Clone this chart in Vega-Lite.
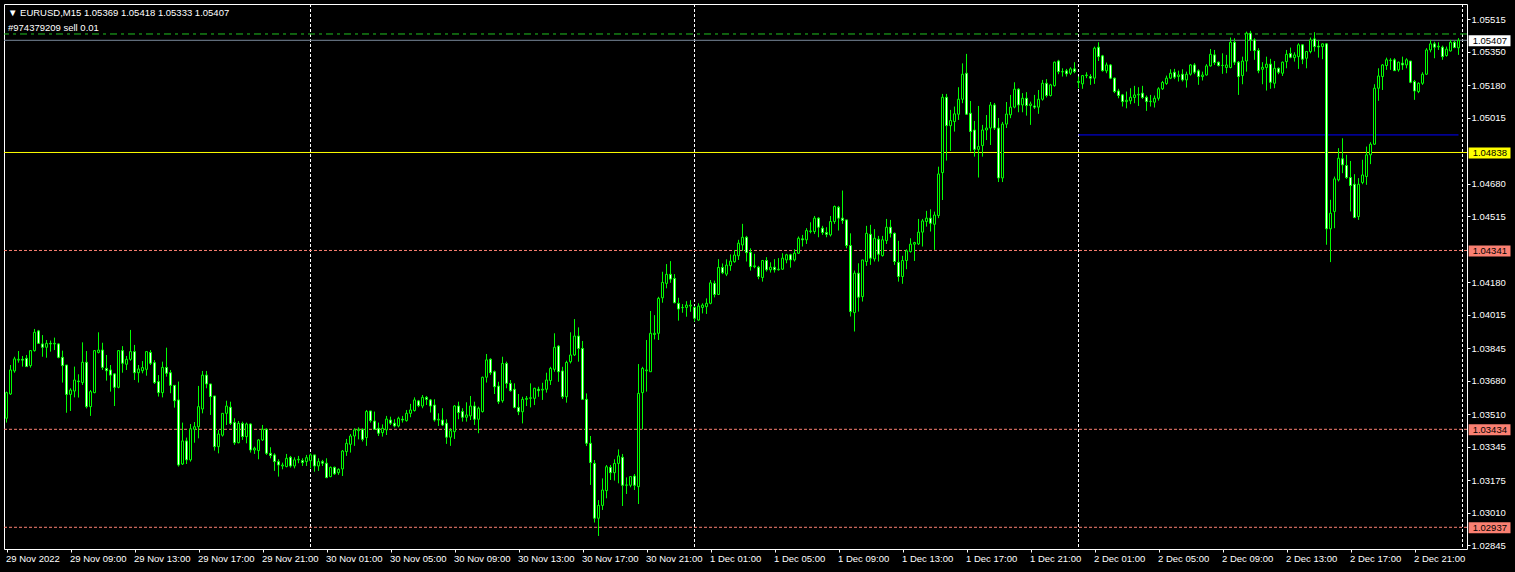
{
  "$schema": "https://vega.github.io/schema/vega-lite/v6.json",
  "width": 1463,
  "height": 545,
  "autosize": {"type": "none"},
  "padding": {"left": 4, "top": 4, "right": 48, "bottom": 23},
  "background": "#000000",
  "config": {
    "view": {"stroke": "#ffffff", "strokeWidth": 1, "fill": "#000000"},
    "font": "Liberation Sans",
    "scale": {"continuousPadding": 0},
    "axis": {"labelFont": "Liberation Sans", "labelFontSize": 9.5, "labelColor": "#ffffff", "tickColor": "#ffffff", "domain": false, "grid": false, "labelOverlap": false},
    "axisY": {"labelOverlap": false},
    "axisX": {"labelOverlap": false}
  },
  "title": {
    "text": "▼ EURUSD,M15  1.05369 1.05418 1.05333 1.05407",
    "subtitle": "#974379209 sell 0.01",
    "anchor": "start",
    "frame": "group",
    "orient": "top",
    "offset": 0,
    "dx": 4,
    "dy": 29,
    "font": "Liberation Sans, DejaVu Sans",
    "fontSize": 9.5,
    "fontWeight": "normal",
    "color": "#ffffff",
    "subtitleFont": "Liberation Sans",
    "subtitleFontSize": 9.5,
    "subtitleColor": "#ffffff",
    "subtitlePadding": 6
  },
  "datasets": {
    "candles": [
{"t":"2022-11-29T05:00Z","o":1.03490,"h":1.03625,"l":1.03468,"c":1.03620},
{"t":"2022-11-29T05:15Z","o":1.03613,"h":1.03760,"l":1.03608,"c":1.03735},
{"t":"2022-11-29T05:30Z","o":1.03730,"h":1.03802,"l":1.03721,"c":1.03791},
{"t":"2022-11-29T05:45Z","o":1.03785,"h":1.03831,"l":1.03772,"c":1.03789},
{"t":"2022-11-29T06:00Z","o":1.03789,"h":1.03806,"l":1.03752,"c":1.03785},
{"t":"2022-11-29T06:15Z","o":1.03794,"h":1.03811,"l":1.03752,"c":1.03752},
{"t":"2022-11-29T06:30Z","o":1.03757,"h":1.03836,"l":1.03747,"c":1.03833},
{"t":"2022-11-29T06:45Z","o":1.03833,"h":1.03943,"l":1.03828,"c":1.03926},
{"t":"2022-11-29T07:00Z","o":1.03933,"h":1.03938,"l":1.03867,"c":1.03870},
{"t":"2022-11-29T07:15Z","o":1.03867,"h":1.03912,"l":1.03802,"c":1.03850},
{"t":"2022-11-29T07:30Z","o":1.03850,"h":1.03887,"l":1.03797,"c":1.03870},
{"t":"2022-11-29T07:45Z","o":1.03870,"h":1.03884,"l":1.03828,"c":1.03867},
{"t":"2022-11-29T08:00Z","o":1.03867,"h":1.03899,"l":1.03836,"c":1.03870},
{"t":"2022-11-29T08:15Z","o":1.03867,"h":1.03870,"l":1.03794,"c":1.03799},
{"t":"2022-11-29T08:30Z","o":1.03799,"h":1.03833,"l":1.03671,"c":1.03757},
{"t":"2022-11-29T08:45Z","o":1.03760,"h":1.03760,"l":1.03518,"c":1.03611},
{"t":"2022-11-29T09:00Z","o":1.03611,"h":1.03642,"l":1.03527,"c":1.03633},
{"t":"2022-11-29T09:15Z","o":1.03628,"h":1.03752,"l":1.03596,"c":1.03684},
{"t":"2022-11-29T09:30Z","o":1.03679,"h":1.03713,"l":1.03595,"c":1.03676},
{"t":"2022-11-29T09:45Z","o":1.03671,"h":1.03875,"l":1.03659,"c":1.03774},
{"t":"2022-11-29T10:00Z","o":1.03774,"h":1.03831,"l":1.03540,"c":1.03549},
{"t":"2022-11-29T10:15Z","o":1.03549,"h":1.03633,"l":1.03502,"c":1.03625},
{"t":"2022-11-29T10:30Z","o":1.03620,"h":1.03836,"l":1.03617,"c":1.03833},
{"t":"2022-11-29T10:45Z","o":1.03824,"h":1.03926,"l":1.03819,"c":1.03836},
{"t":"2022-11-29T11:00Z","o":1.03836,"h":1.03873,"l":1.03735,"c":1.03748},
{"t":"2022-11-29T11:15Z","o":1.03743,"h":1.03811,"l":1.03681,"c":1.03731},
{"t":"2022-11-29T11:30Z","o":1.03735,"h":1.03760,"l":1.03625,"c":1.03709},
{"t":"2022-11-29T11:45Z","o":1.03715,"h":1.03718,"l":1.03552,"c":1.03647},
{"t":"2022-11-29T12:00Z","o":1.03647,"h":1.03836,"l":1.03642,"c":1.03833},
{"t":"2022-11-29T12:15Z","o":1.03833,"h":1.03856,"l":1.03721,"c":1.03769},
{"t":"2022-11-29T12:30Z","o":1.03764,"h":1.03806,"l":1.03735,"c":1.03789},
{"t":"2022-11-29T12:45Z","o":1.03789,"h":1.03938,"l":1.03782,"c":1.03828},
{"t":"2022-11-29T13:00Z","o":1.03828,"h":1.03862,"l":1.03684,"c":1.03721},
{"t":"2022-11-29T13:15Z","o":1.03721,"h":1.03760,"l":1.03671,"c":1.03740},
{"t":"2022-11-29T13:30Z","o":1.03731,"h":1.03780,"l":1.03718,"c":1.03747},
{"t":"2022-11-29T13:45Z","o":1.03738,"h":1.03828,"l":1.03706,"c":1.03828},
{"t":"2022-11-29T14:00Z","o":1.03824,"h":1.03836,"l":1.03760,"c":1.03769},
{"t":"2022-11-29T14:15Z","o":1.03772,"h":1.03785,"l":1.03664,"c":1.03671},
{"t":"2022-11-29T14:30Z","o":1.03676,"h":1.03709,"l":1.03600,"c":1.03620},
{"t":"2022-11-29T14:45Z","o":1.03620,"h":1.03777,"l":1.03596,"c":1.03748},
{"t":"2022-11-29T15:00Z","o":1.03748,"h":1.03848,"l":1.03701,"c":1.03718},
{"t":"2022-11-29T15:15Z","o":1.03721,"h":1.03735,"l":1.03617,"c":1.03657},
{"t":"2022-11-29T15:30Z","o":1.03657,"h":1.03657,"l":1.03544,"c":1.03579},
{"t":"2022-11-29T15:45Z","o":1.03583,"h":1.03676,"l":1.03245,"c":1.03253},
{"t":"2022-11-29T16:00Z","o":1.03258,"h":1.03468,"l":1.03253,"c":1.03375},
{"t":"2022-11-29T16:15Z","o":1.03375,"h":1.03392,"l":1.03258,"c":1.03279},
{"t":"2022-11-29T16:30Z","o":1.03279,"h":1.03461,"l":1.03270,"c":1.03436},
{"t":"2022-11-29T16:45Z","o":1.03434,"h":1.03471,"l":1.03366,"c":1.03447},
{"t":"2022-11-29T17:00Z","o":1.03447,"h":1.03654,"l":1.03388,"c":1.03549},
{"t":"2022-11-29T17:15Z","o":1.03537,"h":1.03730,"l":1.03515,"c":1.03709},
{"t":"2022-11-29T17:30Z","o":1.03709,"h":1.03730,"l":1.03642,"c":1.03664},
{"t":"2022-11-29T17:45Z","o":1.03664,"h":1.03664,"l":1.03507,"c":1.03600},
{"t":"2022-11-29T18:00Z","o":1.03603,"h":1.03603,"l":1.03326,"c":1.03346},
{"t":"2022-11-29T18:15Z","o":1.03346,"h":1.03431,"l":1.03312,"c":1.03410},
{"t":"2022-11-29T18:30Z","o":1.03404,"h":1.03515,"l":1.03397,"c":1.03515},
{"t":"2022-11-29T18:45Z","o":1.03515,"h":1.03579,"l":1.03456,"c":1.03552},
{"t":"2022-11-29T19:00Z","o":1.03546,"h":1.03574,"l":1.03456,"c":1.03464},
{"t":"2022-11-29T19:15Z","o":1.03469,"h":1.03490,"l":1.03355,"c":1.03366},
{"t":"2022-11-29T19:30Z","o":1.03366,"h":1.03476,"l":1.03363,"c":1.03464},
{"t":"2022-11-29T19:45Z","o":1.03464,"h":1.03473,"l":1.03380,"c":1.03397},
{"t":"2022-11-29T20:00Z","o":1.03397,"h":1.03468,"l":1.03363,"c":1.03461},
{"t":"2022-11-29T20:15Z","o":1.03461,"h":1.03464,"l":1.03316,"c":1.03329},
{"t":"2022-11-29T20:30Z","o":1.03329,"h":1.03346,"l":1.03309,"c":1.03338},
{"t":"2022-11-29T20:45Z","o":1.03326,"h":1.03385,"l":1.03282,"c":1.03380},
{"t":"2022-11-29T21:00Z","o":1.03380,"h":1.03456,"l":1.03375,"c":1.03434},
{"t":"2022-11-29T21:15Z","o":1.03434,"h":1.03439,"l":1.03304,"c":1.03312},
{"t":"2022-11-29T21:30Z","o":1.03312,"h":1.03343,"l":1.03287,"c":1.03301},
{"t":"2022-11-29T21:45Z","o":1.03304,"h":1.03312,"l":1.03223,"c":1.03270},
{"t":"2022-11-29T22:00Z","o":1.03270,"h":1.03282,"l":1.03194,"c":1.03253},
{"t":"2022-11-29T22:15Z","o":1.03248,"h":1.03265,"l":1.03231,"c":1.03253},
{"t":"2022-11-29T22:30Z","o":1.03245,"h":1.03309,"l":1.03241,"c":1.03287},
{"t":"2022-11-29T22:45Z","o":1.03292,"h":1.03299,"l":1.03240,"c":1.03248},
{"t":"2022-11-29T23:00Z","o":1.03248,"h":1.03292,"l":1.03236,"c":1.03279},
{"t":"2022-11-29T23:15Z","o":1.03279,"h":1.03299,"l":1.03262,"c":1.03282},
{"t":"2022-11-29T23:30Z","o":1.03275,"h":1.03287,"l":1.03248,"c":1.03265},
{"t":"2022-11-29T23:45Z","o":1.03270,"h":1.03304,"l":1.03248,"c":1.03290},
{"t":"2022-11-30T00:00Z","o":1.03275,"h":1.03312,"l":1.03236,"c":1.03304},
{"t":"2022-11-30T00:15Z","o":1.03304,"h":1.03304,"l":1.03219,"c":1.03248},
{"t":"2022-11-30T00:30Z","o":1.03248,"h":1.03287,"l":1.03223,"c":1.03270},
{"t":"2022-11-30T00:45Z","o":1.03270,"h":1.03279,"l":1.03248,"c":1.03262},
{"t":"2022-11-30T01:00Z","o":1.03262,"h":1.03287,"l":1.03186,"c":1.03189},
{"t":"2022-11-30T01:15Z","o":1.03194,"h":1.03245,"l":1.03191,"c":1.03241},
{"t":"2022-11-30T01:30Z","o":1.03241,"h":1.03245,"l":1.03203,"c":1.03208},
{"t":"2022-11-30T01:45Z","o":1.03214,"h":1.03236,"l":1.03203,"c":1.03231},
{"t":"2022-11-30T02:00Z","o":1.03233,"h":1.03329,"l":1.03197,"c":1.03324},
{"t":"2022-11-30T02:15Z","o":1.03321,"h":1.03385,"l":1.03299,"c":1.03363},
{"t":"2022-11-30T02:30Z","o":1.03358,"h":1.03410,"l":1.03316,"c":1.03400},
{"t":"2022-11-30T02:45Z","o":1.03400,"h":1.03439,"l":1.03350,"c":1.03431},
{"t":"2022-11-30T03:00Z","o":1.03427,"h":1.03444,"l":1.03383,"c":1.03434},
{"t":"2022-11-30T03:15Z","o":1.03434,"h":1.03439,"l":1.03372,"c":1.03383},
{"t":"2022-11-30T03:30Z","o":1.03392,"h":1.03532,"l":1.03350,"c":1.03524},
{"t":"2022-11-30T03:45Z","o":1.03527,"h":1.03527,"l":1.03468,"c":1.03478},
{"t":"2022-11-30T04:00Z","o":1.03476,"h":1.03524,"l":1.03431,"c":1.03434},
{"t":"2022-11-30T04:15Z","o":1.03439,"h":1.03468,"l":1.03400,"c":1.03414},
{"t":"2022-11-30T04:30Z","o":1.03417,"h":1.03459,"l":1.03397,"c":1.03439},
{"t":"2022-11-30T04:45Z","o":1.03431,"h":1.03502,"l":1.03405,"c":1.03486},
{"t":"2022-11-30T05:00Z","o":1.03481,"h":1.03498,"l":1.03456,"c":1.03465},
{"t":"2022-11-30T05:15Z","o":1.03465,"h":1.03485,"l":1.03444,"c":1.03451},
{"t":"2022-11-30T05:30Z","o":1.03451,"h":1.03498,"l":1.03444,"c":1.03490},
{"t":"2022-11-30T05:45Z","o":1.03485,"h":1.03502,"l":1.03468,"c":1.03481},
{"t":"2022-11-30T06:00Z","o":1.03478,"h":1.03532,"l":1.03473,"c":1.03515},
{"t":"2022-11-30T06:15Z","o":1.03515,"h":1.03563,"l":1.03495,"c":1.03532},
{"t":"2022-11-30T06:30Z","o":1.03529,"h":1.03596,"l":1.03524,"c":1.03583},
{"t":"2022-11-30T06:45Z","o":1.03578,"h":1.03583,"l":1.03546,"c":1.03554},
{"t":"2022-11-30T07:00Z","o":1.03552,"h":1.03608,"l":1.03541,"c":1.03596},
{"t":"2022-11-30T07:15Z","o":1.03596,"h":1.03603,"l":1.03557,"c":1.03586},
{"t":"2022-11-30T07:30Z","o":1.03583,"h":1.03588,"l":1.03519,"c":1.03552},
{"t":"2022-11-30T07:45Z","o":1.03557,"h":1.03586,"l":1.03473,"c":1.03481},
{"t":"2022-11-30T08:00Z","o":1.03481,"h":1.03515,"l":1.03451,"c":1.03485},
{"t":"2022-11-30T08:15Z","o":1.03481,"h":1.03541,"l":1.03451,"c":1.03456},
{"t":"2022-11-30T08:30Z","o":1.03465,"h":1.03485,"l":1.03360,"c":1.03394},
{"t":"2022-11-30T08:45Z","o":1.03394,"h":1.03439,"l":1.03350,"c":1.03427},
{"t":"2022-11-30T09:00Z","o":1.03422,"h":1.03557,"l":1.03385,"c":1.03552},
{"t":"2022-11-30T09:15Z","o":1.03552,"h":1.03574,"l":1.03485,"c":1.03519},
{"t":"2022-11-30T09:30Z","o":1.03524,"h":1.03541,"l":1.03473,"c":1.03495},
{"t":"2022-11-30T09:45Z","o":1.03495,"h":1.03571,"l":1.03473,"c":1.03507},
{"t":"2022-11-30T10:00Z","o":1.03502,"h":1.03603,"l":1.03481,"c":1.03552},
{"t":"2022-11-30T10:15Z","o":1.03552,"h":1.03574,"l":1.03456,"c":1.03485},
{"t":"2022-11-30T10:30Z","o":1.03485,"h":1.03549,"l":1.03414,"c":1.03541},
{"t":"2022-11-30T10:45Z","o":1.03524,"h":1.03701,"l":1.03519,"c":1.03698},
{"t":"2022-11-30T11:00Z","o":1.03698,"h":1.03816,"l":1.03671,"c":1.03786},
{"t":"2022-11-30T11:15Z","o":1.03789,"h":1.03794,"l":1.03710,"c":1.03721},
{"t":"2022-11-30T11:30Z","o":1.03726,"h":1.03732,"l":1.03613,"c":1.03650},
{"t":"2022-11-30T11:45Z","o":1.03653,"h":1.03675,"l":1.03562,"c":1.03574},
{"t":"2022-11-30T12:00Z","o":1.03579,"h":1.03802,"l":1.03569,"c":1.03768},
{"t":"2022-11-30T12:15Z","o":1.03768,"h":1.03777,"l":1.03642,"c":1.03667},
{"t":"2022-11-30T12:30Z","o":1.03667,"h":1.03684,"l":1.03625,"c":1.03630},
{"t":"2022-11-30T12:45Z","o":1.03637,"h":1.03667,"l":1.03540,"c":1.03545},
{"t":"2022-11-30T13:00Z","o":1.03545,"h":1.03613,"l":1.03506,"c":1.03523},
{"t":"2022-11-30T13:15Z","o":1.03523,"h":1.03599,"l":1.03464,"c":1.03586},
{"t":"2022-11-30T13:30Z","o":1.03586,"h":1.03603,"l":1.03552,"c":1.03591},
{"t":"2022-11-30T13:45Z","o":1.03591,"h":1.03667,"l":1.03545,"c":1.03594},
{"t":"2022-11-30T14:00Z","o":1.03591,"h":1.03645,"l":1.03557,"c":1.03642},
{"t":"2022-11-30T14:15Z","o":1.03637,"h":1.03650,"l":1.03599,"c":1.03630},
{"t":"2022-11-30T14:30Z","o":1.03633,"h":1.03670,"l":1.03583,"c":1.03637},
{"t":"2022-11-30T14:45Z","o":1.03637,"h":1.03721,"l":1.03620,"c":1.03684},
{"t":"2022-11-30T15:00Z","o":1.03681,"h":1.03751,"l":1.03659,"c":1.03743},
{"t":"2022-11-30T15:15Z","o":1.03738,"h":1.03921,"l":1.03726,"c":1.03850},
{"t":"2022-11-30T15:30Z","o":1.03856,"h":1.03861,"l":1.03675,"c":1.03726},
{"t":"2022-11-30T15:45Z","o":1.03730,"h":1.03751,"l":1.03588,"c":1.03599},
{"t":"2022-11-30T16:00Z","o":1.03599,"h":1.03782,"l":1.03569,"c":1.03773},
{"t":"2022-11-30T16:15Z","o":1.03777,"h":1.03926,"l":1.03768,"c":1.03811},
{"t":"2022-11-30T16:30Z","o":1.03811,"h":1.03993,"l":1.03806,"c":1.03907},
{"t":"2022-11-30T16:45Z","o":1.03907,"h":1.03951,"l":1.03777,"c":1.03844},
{"t":"2022-11-30T17:00Z","o":1.03844,"h":1.03882,"l":1.03583,"c":1.03586},
{"t":"2022-11-30T17:15Z","o":1.03586,"h":1.03616,"l":1.03349,"c":1.03363},
{"t":"2022-11-30T17:30Z","o":1.03363,"h":1.03400,"l":1.03152,"c":1.03265},
{"t":"2022-11-30T17:45Z","o":1.03261,"h":1.03278,"l":1.02961,"c":1.02983},
{"t":"2022-11-30T18:00Z","o":1.02983,"h":1.03075,"l":1.02893,"c":1.03048},
{"t":"2022-11-30T18:15Z","o":1.03048,"h":1.03185,"l":1.03025,"c":1.03126},
{"t":"2022-11-30T18:30Z","o":1.03123,"h":1.03253,"l":1.03084,"c":1.03244},
{"t":"2022-11-30T18:45Z","o":1.03241,"h":1.03253,"l":1.03177,"c":1.03214},
{"t":"2022-11-30T19:00Z","o":1.03214,"h":1.03282,"l":1.03174,"c":1.03261},
{"t":"2022-11-30T19:15Z","o":1.03261,"h":1.03332,"l":1.03160,"c":1.03299},
{"t":"2022-11-30T19:30Z","o":1.03292,"h":1.03309,"l":1.03045,"c":1.03150},
{"t":"2022-11-30T19:45Z","o":1.03150,"h":1.03190,"l":1.03106,"c":1.03152},
{"t":"2022-11-30T20:00Z","o":1.03150,"h":1.03197,"l":1.03140,"c":1.03194},
{"t":"2022-11-30T20:15Z","o":1.03197,"h":1.03207,"l":1.03126,"c":1.03150},
{"t":"2022-11-30T20:30Z","o":1.03143,"h":1.03765,"l":1.03055,"c":1.03616},
{"t":"2022-11-30T20:45Z","o":1.03620,"h":1.03751,"l":1.03434,"c":1.03743},
{"t":"2022-11-30T21:00Z","o":1.03731,"h":1.03887,"l":1.03625,"c":1.03735},
{"t":"2022-11-30T21:15Z","o":1.03726,"h":1.04034,"l":1.03726,"c":1.03921},
{"t":"2022-11-30T21:30Z","o":1.03915,"h":1.04013,"l":1.03890,"c":1.03921},
{"t":"2022-11-30T21:45Z","o":1.03921,"h":1.04106,"l":1.03887,"c":1.04098},
{"t":"2022-11-30T22:00Z","o":1.04101,"h":1.04233,"l":1.04076,"c":1.04179},
{"t":"2022-11-30T22:15Z","o":1.04174,"h":1.04272,"l":1.04149,"c":1.04220},
{"t":"2022-11-30T22:30Z","o":1.04220,"h":1.04287,"l":1.04177,"c":1.04196},
{"t":"2022-11-30T22:45Z","o":1.04199,"h":1.04221,"l":1.04073,"c":1.04076},
{"t":"2022-11-30T23:00Z","o":1.04073,"h":1.04101,"l":1.03985,"c":1.04044},
{"t":"2022-11-30T23:15Z","o":1.04051,"h":1.04069,"l":1.04025,"c":1.04052},
{"t":"2022-11-30T23:30Z","o":1.04052,"h":1.04084,"l":1.04005,"c":1.04064},
{"t":"2022-11-30T23:45Z","o":1.04059,"h":1.04089,"l":1.04030,"c":1.04064},
{"t":"2022-12-01T00:00Z","o":1.04052,"h":1.04059,"l":1.03980,"c":1.03997},
{"t":"2022-12-01T00:15Z","o":1.03988,"h":1.04073,"l":1.03985,"c":1.04059},
{"t":"2022-12-01T00:30Z","o":1.04052,"h":1.04073,"l":1.04022,"c":1.04064},
{"t":"2022-12-01T00:45Z","o":1.04056,"h":1.04098,"l":1.04019,"c":1.04073},
{"t":"2022-12-01T01:00Z","o":1.04073,"h":1.04191,"l":1.04068,"c":1.04177},
{"t":"2022-12-01T01:15Z","o":1.04174,"h":1.04188,"l":1.04103,"c":1.04118},
{"t":"2022-12-01T01:30Z","o":1.04118,"h":1.04297,"l":1.04115,"c":1.04255},
{"t":"2022-12-01T01:45Z","o":1.04255,"h":1.04275,"l":1.04221,"c":1.04228},
{"t":"2022-12-01T02:00Z","o":1.04221,"h":1.04296,"l":1.04211,"c":1.04267},
{"t":"2022-12-01T02:15Z","o":1.04264,"h":1.04321,"l":1.04238,"c":1.04287},
{"t":"2022-12-01T02:30Z","o":1.04284,"h":1.04343,"l":1.04279,"c":1.04318},
{"t":"2022-12-01T02:45Z","o":1.04314,"h":1.04395,"l":1.04293,"c":1.04378},
{"t":"2022-12-01T03:00Z","o":1.04369,"h":1.04476,"l":1.04339,"c":1.04408},
{"t":"2022-12-01T03:15Z","o":1.04408,"h":1.04415,"l":1.04285,"c":1.04330},
{"t":"2022-12-01T03:30Z","o":1.04332,"h":1.04352,"l":1.04239,"c":1.04259},
{"t":"2022-12-01T03:45Z","o":1.04259,"h":1.04324,"l":1.04251,"c":1.04263},
{"t":"2022-12-01T04:00Z","o":1.04256,"h":1.04263,"l":1.04195,"c":1.04209},
{"t":"2022-12-01T04:15Z","o":1.04204,"h":1.04293,"l":1.04183,"c":1.04290},
{"t":"2022-12-01T04:30Z","o":1.04290,"h":1.04307,"l":1.04234,"c":1.04243},
{"t":"2022-12-01T04:45Z","o":1.04243,"h":1.04281,"l":1.04229,"c":1.04256},
{"t":"2022-12-01T05:00Z","o":1.04256,"h":1.04297,"l":1.04229,"c":1.04243},
{"t":"2022-12-01T05:15Z","o":1.04243,"h":1.04302,"l":1.04239,"c":1.04246},
{"t":"2022-12-01T05:30Z","o":1.04246,"h":1.04327,"l":1.04243,"c":1.04302},
{"t":"2022-12-01T05:45Z","o":1.04293,"h":1.04324,"l":1.04276,"c":1.04319},
{"t":"2022-12-01T06:00Z","o":1.04319,"h":1.04324,"l":1.04254,"c":1.04293},
{"t":"2022-12-01T06:15Z","o":1.04293,"h":1.04347,"l":1.04285,"c":1.04327},
{"t":"2022-12-01T06:30Z","o":1.04327,"h":1.04412,"l":1.04324,"c":1.04403},
{"t":"2022-12-01T06:45Z","o":1.04400,"h":1.04420,"l":1.04361,"c":1.04395},
{"t":"2022-12-01T07:00Z","o":1.04395,"h":1.04454,"l":1.04374,"c":1.04442},
{"t":"2022-12-01T07:15Z","o":1.04437,"h":1.04484,"l":1.04428,"c":1.04440},
{"t":"2022-12-01T07:30Z","o":1.04437,"h":1.04516,"l":1.04425,"c":1.04505},
{"t":"2022-12-01T07:45Z","o":1.04505,"h":1.04510,"l":1.04408,"c":1.04459},
{"t":"2022-12-01T08:00Z","o":1.04454,"h":1.04466,"l":1.04420,"c":1.04432},
{"t":"2022-12-01T08:15Z","o":1.04432,"h":1.04459,"l":1.04408,"c":1.04423},
{"t":"2022-12-01T08:30Z","o":1.04420,"h":1.04516,"l":1.04412,"c":1.04488},
{"t":"2022-12-01T08:45Z","o":1.04488,"h":1.04569,"l":1.04476,"c":1.04564},
{"t":"2022-12-01T09:00Z","o":1.04560,"h":1.04567,"l":1.04442,"c":1.04505},
{"t":"2022-12-01T09:15Z","o":1.04505,"h":1.04645,"l":1.04476,"c":1.04493},
{"t":"2022-12-01T09:30Z","o":1.04496,"h":1.04496,"l":1.04352,"c":1.04366},
{"t":"2022-12-01T09:45Z","o":1.04366,"h":1.04428,"l":1.04006,"c":1.04031},
{"t":"2022-12-01T10:00Z","o":1.04026,"h":1.04239,"l":1.03930,"c":1.04226},
{"t":"2022-12-01T10:15Z","o":1.04226,"h":1.04276,"l":1.04031,"c":1.04104},
{"t":"2022-12-01T10:30Z","o":1.04107,"h":1.04293,"l":1.04082,"c":1.04293},
{"t":"2022-12-01T10:45Z","o":1.04285,"h":1.04466,"l":1.04263,"c":1.04428},
{"t":"2022-12-01T11:00Z","o":1.04423,"h":1.04471,"l":1.04268,"c":1.04302},
{"t":"2022-12-01T11:15Z","o":1.04298,"h":1.04449,"l":1.04285,"c":1.04403},
{"t":"2022-12-01T11:30Z","o":1.04398,"h":1.04415,"l":1.04285,"c":1.04322},
{"t":"2022-12-01T11:45Z","o":1.04315,"h":1.04415,"l":1.04310,"c":1.04395},
{"t":"2022-12-01T12:00Z","o":1.04391,"h":1.04501,"l":1.04374,"c":1.04459},
{"t":"2022-12-01T12:15Z","o":1.04459,"h":1.04496,"l":1.04407,"c":1.04428},
{"t":"2022-12-01T12:30Z","o":1.04428,"h":1.04432,"l":1.04268,"c":1.04285},
{"t":"2022-12-01T12:45Z","o":1.04281,"h":1.04390,"l":1.04183,"c":1.04209},
{"t":"2022-12-01T13:00Z","o":1.04209,"h":1.04314,"l":1.04172,"c":1.04290},
{"t":"2022-12-01T13:15Z","o":1.04290,"h":1.04347,"l":1.04246,"c":1.04339},
{"t":"2022-12-01T13:30Z","o":1.04336,"h":1.04403,"l":1.04330,"c":1.04373},
{"t":"2022-12-01T13:45Z","o":1.04373,"h":1.04385,"l":1.04288,"c":1.04381},
{"t":"2022-12-01T14:00Z","o":1.04374,"h":1.04501,"l":1.04369,"c":1.04434},
{"t":"2022-12-01T14:15Z","o":1.04434,"h":1.04501,"l":1.04361,"c":1.04491},
{"t":"2022-12-01T14:30Z","o":1.04488,"h":1.04542,"l":1.04462,"c":1.04505},
{"t":"2022-12-01T14:45Z","o":1.04505,"h":1.04550,"l":1.04437,"c":1.04479},
{"t":"2022-12-01T15:00Z","o":1.04474,"h":1.04538,"l":1.04344,"c":1.04521},
{"t":"2022-12-01T15:15Z","o":1.04518,"h":1.04766,"l":1.04505,"c":1.04729},
{"t":"2022-12-01T15:30Z","o":1.04736,"h":1.05135,"l":1.04597,"c":1.05118},
{"t":"2022-12-01T15:45Z","o":1.05118,"h":1.05135,"l":1.04797,"c":1.04974},
{"t":"2022-12-01T16:00Z","o":1.04974,"h":1.05054,"l":1.04846,"c":1.05000},
{"t":"2022-12-01T16:15Z","o":1.04995,"h":1.05071,"l":1.04944,"c":1.05034},
{"t":"2022-12-01T16:30Z","o":1.05032,"h":1.05169,"l":1.05003,"c":1.05108},
{"t":"2022-12-01T16:45Z","o":1.05108,"h":1.05290,"l":1.05088,"c":1.05235},
{"t":"2022-12-01T17:00Z","o":1.05240,"h":1.05338,"l":1.05028,"c":1.05032},
{"t":"2022-12-01T17:15Z","o":1.05037,"h":1.05099,"l":1.04843,"c":1.04944},
{"t":"2022-12-01T17:30Z","o":1.04952,"h":1.04998,"l":1.04817,"c":1.04854},
{"t":"2022-12-01T17:45Z","o":1.04854,"h":1.05074,"l":1.04711,"c":1.04868},
{"t":"2022-12-01T18:00Z","o":1.04873,"h":1.04978,"l":1.04817,"c":1.04952},
{"t":"2022-12-01T18:15Z","o":1.04952,"h":1.05028,"l":1.04901,"c":1.04962},
{"t":"2022-12-01T18:30Z","o":1.04962,"h":1.05094,"l":1.04876,"c":1.05079},
{"t":"2022-12-01T18:45Z","o":1.05079,"h":1.05089,"l":1.04952,"c":1.04962},
{"t":"2022-12-01T19:00Z","o":1.04962,"h":1.05013,"l":1.04688,"c":1.04709},
{"t":"2022-12-01T19:15Z","o":1.04709,"h":1.04993,"l":1.04688,"c":1.04982},
{"t":"2022-12-01T19:30Z","o":1.04982,"h":1.05094,"l":1.04962,"c":1.05033},
{"t":"2022-12-01T19:45Z","o":1.05029,"h":1.05130,"l":1.05012,"c":1.05068},
{"t":"2022-12-01T20:00Z","o":1.05068,"h":1.05194,"l":1.05062,"c":1.05159},
{"t":"2022-12-01T20:15Z","o":1.05159,"h":1.05164,"l":1.05042,"c":1.05079},
{"t":"2022-12-01T20:30Z","o":1.05079,"h":1.05139,"l":1.05042,"c":1.05113},
{"t":"2022-12-01T20:45Z","o":1.05113,"h":1.05144,"l":1.05025,"c":1.05076},
{"t":"2022-12-01T21:00Z","o":1.05076,"h":1.05096,"l":1.04978,"c":1.05084},
{"t":"2022-12-01T21:15Z","o":1.05074,"h":1.05130,"l":1.05059,"c":1.05068},
{"t":"2022-12-01T21:30Z","o":1.05068,"h":1.05155,"l":1.05034,"c":1.05108},
{"t":"2022-12-01T21:45Z","o":1.05108,"h":1.05206,"l":1.05101,"c":1.05189},
{"t":"2022-12-01T22:00Z","o":1.05189,"h":1.05210,"l":1.05117,"c":1.05127},
{"t":"2022-12-01T22:15Z","o":1.05127,"h":1.05186,"l":1.05122,"c":1.05181},
{"t":"2022-12-01T22:30Z","o":1.05177,"h":1.05299,"l":1.05172,"c":1.05296},
{"t":"2022-12-01T22:45Z","o":1.05302,"h":1.05308,"l":1.05235,"c":1.05248},
{"t":"2022-12-01T23:00Z","o":1.05248,"h":1.05265,"l":1.05223,"c":1.05247},
{"t":"2022-12-01T23:15Z","o":1.05252,"h":1.05262,"l":1.05223,"c":1.05237},
{"t":"2022-12-01T23:30Z","o":1.05240,"h":1.05270,"l":1.05231,"c":1.05262},
{"t":"2022-12-01T23:45Z","o":1.05262,"h":1.05296,"l":1.05240,"c":1.05248},
{"t":"2022-12-02T00:00Z","o":1.05198,"h":1.05223,"l":1.05164,"c":1.05194},
{"t":"2022-12-02T00:15Z","o":1.05186,"h":1.05231,"l":1.05161,"c":1.05228},
{"t":"2022-12-02T00:30Z","o":1.05228,"h":1.05245,"l":1.05215,"c":1.05231},
{"t":"2022-12-02T00:45Z","o":1.05223,"h":1.05235,"l":1.05181,"c":1.05215},
{"t":"2022-12-02T01:00Z","o":1.05215,"h":1.05375,"l":1.05186,"c":1.05367},
{"t":"2022-12-02T01:15Z","o":1.05372,"h":1.05397,"l":1.05302,"c":1.05324},
{"t":"2022-12-02T01:30Z","o":1.05328,"h":1.05333,"l":1.05248,"c":1.05253},
{"t":"2022-12-02T01:45Z","o":1.05252,"h":1.05294,"l":1.05240,"c":1.05282},
{"t":"2022-12-02T02:00Z","o":1.05282,"h":1.05286,"l":1.05210,"c":1.05215},
{"t":"2022-12-02T02:15Z","o":1.05215,"h":1.05218,"l":1.05139,"c":1.05147},
{"t":"2022-12-02T02:30Z","o":1.05150,"h":1.05161,"l":1.05113,"c":1.05127},
{"t":"2022-12-02T02:45Z","o":1.05130,"h":1.05135,"l":1.05071,"c":1.05096},
{"t":"2022-12-02T03:00Z","o":1.05096,"h":1.05147,"l":1.05062,"c":1.05103},
{"t":"2022-12-02T03:15Z","o":1.05100,"h":1.05164,"l":1.05083,"c":1.05118},
{"t":"2022-12-02T03:30Z","o":1.05117,"h":1.05176,"l":1.05088,"c":1.05130},
{"t":"2022-12-02T03:45Z","o":1.05130,"h":1.05169,"l":1.05074,"c":1.05133},
{"t":"2022-12-02T04:00Z","o":1.05139,"h":1.05176,"l":1.05110,"c":1.05117},
{"t":"2022-12-02T04:15Z","o":1.05118,"h":1.05127,"l":1.05049,"c":1.05096},
{"t":"2022-12-02T04:30Z","o":1.05096,"h":1.05130,"l":1.05071,"c":1.05098},
{"t":"2022-12-02T04:45Z","o":1.05093,"h":1.05127,"l":1.05066,"c":1.05113},
{"t":"2022-12-02T05:00Z","o":1.05113,"h":1.05169,"l":1.05101,"c":1.05161},
{"t":"2022-12-02T05:15Z","o":1.05161,"h":1.05201,"l":1.05155,"c":1.05193},
{"t":"2022-12-02T05:30Z","o":1.05188,"h":1.05228,"l":1.05181,"c":1.05215},
{"t":"2022-12-02T05:45Z","o":1.05215,"h":1.05260,"l":1.05210,"c":1.05240},
{"t":"2022-12-02T06:00Z","o":1.05245,"h":1.05262,"l":1.05210,"c":1.05220},
{"t":"2022-12-02T06:15Z","o":1.05223,"h":1.05253,"l":1.05198,"c":1.05231},
{"t":"2022-12-02T06:30Z","o":1.05235,"h":1.05260,"l":1.05198,"c":1.05206},
{"t":"2022-12-02T06:45Z","o":1.05206,"h":1.05248,"l":1.05167,"c":1.05235},
{"t":"2022-12-02T07:00Z","o":1.05235,"h":1.05286,"l":1.05228,"c":1.05282},
{"t":"2022-12-02T07:15Z","o":1.05282,"h":1.05291,"l":1.05235,"c":1.05245},
{"t":"2022-12-02T07:30Z","o":1.05252,"h":1.05260,"l":1.05181,"c":1.05223},
{"t":"2022-12-02T07:45Z","o":1.05223,"h":1.05248,"l":1.05203,"c":1.05231},
{"t":"2022-12-02T08:00Z","o":1.05231,"h":1.05286,"l":1.05228,"c":1.05277},
{"t":"2022-12-02T08:15Z","o":1.05277,"h":1.05363,"l":1.05274,"c":1.05336},
{"t":"2022-12-02T08:30Z","o":1.05333,"h":1.05358,"l":1.05282,"c":1.05294},
{"t":"2022-12-02T08:45Z","o":1.05296,"h":1.05299,"l":1.05274,"c":1.05279},
{"t":"2022-12-02T09:00Z","o":1.05279,"h":1.05341,"l":1.05237,"c":1.05280},
{"t":"2022-12-02T09:15Z","o":1.05269,"h":1.05333,"l":1.05240,"c":1.05282},
{"t":"2022-12-02T09:30Z","o":1.05269,"h":1.05421,"l":1.05265,"c":1.05397},
{"t":"2022-12-02T09:45Z","o":1.05397,"h":1.05417,"l":1.05282,"c":1.05296},
{"t":"2022-12-02T10:00Z","o":1.05296,"h":1.05302,"l":1.05130,"c":1.05223},
{"t":"2022-12-02T10:15Z","o":1.05228,"h":1.05324,"l":1.05184,"c":1.05302},
{"t":"2022-12-02T10:30Z","o":1.05302,"h":1.05451,"l":1.05248,"c":1.05443},
{"t":"2022-12-02T10:45Z","o":1.05443,"h":1.05455,"l":1.05353,"c":1.05409},
{"t":"2022-12-02T11:00Z","o":1.05409,"h":1.05417,"l":1.05308,"c":1.05355},
{"t":"2022-12-02T11:15Z","o":1.05355,"h":1.05367,"l":1.05240,"c":1.05253},
{"t":"2022-12-02T11:30Z","o":1.05260,"h":1.05296,"l":1.05184,"c":1.05270},
{"t":"2022-12-02T11:45Z","o":1.05269,"h":1.05324,"l":1.05152,"c":1.05286},
{"t":"2022-12-02T12:00Z","o":1.05286,"h":1.05313,"l":1.05161,"c":1.05194},
{"t":"2022-12-02T12:15Z","o":1.05189,"h":1.05302,"l":1.05164,"c":1.05265},
{"t":"2022-12-02T12:30Z","o":1.05265,"h":1.05269,"l":1.05235,"c":1.05245},
{"t":"2022-12-02T12:45Z","o":1.05240,"h":1.05299,"l":1.05226,"c":1.05296},
{"t":"2022-12-02T13:00Z","o":1.05299,"h":1.05358,"l":1.05265,"c":1.05336},
{"t":"2022-12-02T13:15Z","o":1.05340,"h":1.05370,"l":1.05316,"c":1.05321},
{"t":"2022-12-02T13:30Z","o":1.05319,"h":1.05346,"l":1.05299,"c":1.05333},
{"t":"2022-12-02T13:45Z","o":1.05324,"h":1.05392,"l":1.05262,"c":1.05384},
{"t":"2022-12-02T14:00Z","o":1.05384,"h":1.05387,"l":1.05286,"c":1.05311},
{"t":"2022-12-02T14:15Z","o":1.05316,"h":1.05353,"l":1.05265,"c":1.05350},
{"t":"2022-12-02T14:30Z","o":1.05350,"h":1.05421,"l":1.05341,"c":1.05409},
{"t":"2022-12-02T14:45Z","o":1.05414,"h":1.05448,"l":1.05350,"c":1.05375},
{"t":"2022-12-02T15:00Z","o":1.05377,"h":1.05409,"l":1.05319,"c":1.05373},
{"t":"2022-12-02T15:15Z","o":1.05375,"h":1.05392,"l":1.05311,"c":1.05389},
{"t":"2022-12-02T15:30Z","o":1.05389,"h":1.05392,"l":1.04370,"c":1.04451},
{"t":"2022-12-02T15:45Z","o":1.04451,"h":1.04598,"l":1.04282,"c":1.04530},
{"t":"2022-12-02T16:00Z","o":1.04539,"h":1.04716,"l":1.04454,"c":1.04704},
{"t":"2022-12-02T16:15Z","o":1.04699,"h":1.04860,"l":1.04691,"c":1.04809},
{"t":"2022-12-02T16:30Z","o":1.04806,"h":1.04910,"l":1.04733,"c":1.04775},
{"t":"2022-12-02T16:45Z","o":1.04772,"h":1.04826,"l":1.04704,"c":1.04711},
{"t":"2022-12-02T17:00Z","o":1.04711,"h":1.04795,"l":1.04539,"c":1.04670},
{"t":"2022-12-02T17:15Z","o":1.04677,"h":1.04728,"l":1.04505,"c":1.04508},
{"t":"2022-12-02T17:30Z","o":1.04513,"h":1.04708,"l":1.04496,"c":1.04677},
{"t":"2022-12-02T17:45Z","o":1.04686,"h":1.04801,"l":1.04677,"c":1.04724},
{"t":"2022-12-02T18:00Z","o":1.04716,"h":1.04868,"l":1.04674,"c":1.04826},
{"t":"2022-12-02T18:15Z","o":1.04826,"h":1.04890,"l":1.04779,"c":1.04880},
{"t":"2022-12-02T18:30Z","o":1.04880,"h":1.05184,"l":1.04877,"c":1.05164},
{"t":"2022-12-02T18:45Z","o":1.05164,"h":1.05265,"l":1.05100,"c":1.05226},
{"t":"2022-12-02T19:00Z","o":1.05223,"h":1.05286,"l":1.05155,"c":1.05282},
{"t":"2022-12-02T19:15Z","o":1.05279,"h":1.05319,"l":1.05257,"c":1.05308},
{"t":"2022-12-02T19:30Z","o":1.05304,"h":1.05316,"l":1.05257,"c":1.05306},
{"t":"2022-12-02T19:45Z","o":1.05308,"h":1.05316,"l":1.05252,"c":1.05253},
{"t":"2022-12-02T20:00Z","o":1.05257,"h":1.05299,"l":1.05248,"c":1.05296},
{"t":"2022-12-02T20:15Z","o":1.05291,"h":1.05324,"l":1.05257,"c":1.05282},
{"t":"2022-12-02T20:30Z","o":1.05282,"h":1.05316,"l":1.05265,"c":1.05308},
{"t":"2022-12-02T20:45Z","o":1.05302,"h":1.05302,"l":1.05189,"c":1.05194},
{"t":"2022-12-02T21:00Z","o":1.05198,"h":1.05206,"l":1.05105,"c":1.05150},
{"t":"2022-12-02T21:15Z","o":1.05147,"h":1.05194,"l":1.05139,"c":1.05189},
{"t":"2022-12-02T21:30Z","o":1.05189,"h":1.05245,"l":1.05181,"c":1.05235},
{"t":"2022-12-02T21:45Z","o":1.05235,"h":1.05367,"l":1.05231,"c":1.05358},
{"t":"2022-12-02T22:00Z","o":1.05358,"h":1.05409,"l":1.05346,"c":1.05389},
{"t":"2022-12-02T22:15Z","o":1.05389,"h":1.05400,"l":1.05316,"c":1.05372},
{"t":"2022-12-02T22:30Z","o":1.05373,"h":1.05397,"l":1.05358,"c":1.05377},
{"t":"2022-12-02T22:45Z","o":1.05372,"h":1.05380,"l":1.05308,"c":1.05324},
{"t":"2022-12-02T23:00Z","o":1.05330,"h":1.05375,"l":1.05324,"c":1.05362},
{"t":"2022-12-02T23:15Z","o":1.05353,"h":1.05409,"l":1.05350,"c":1.05397},
{"t":"2022-12-02T23:30Z","o":1.05397,"h":1.05404,"l":1.05367,"c":1.05370},
{"t":"2022-12-02T23:45Z","o":1.05369,"h":1.05418,"l":1.05333,"c":1.05407}
    ],
    "tags": [
      {"p": 1.05407, "k": "bid"},
      {"p": 1.04838, "k": "order"},
      {"p": 1.04341, "k": "level"},
      {"p": 1.03434, "k": "level"},
      {"p": 1.02937, "k": "level"}
    ],
    "levels": [
      {"p": 1.04341, "k": "level"},
      {"p": 1.03434, "k": "level"},
      {"p": 1.02937, "k": "level"},
      {"p": 1.04838, "k": "order"},
      {"p": 1.05407, "k": "bid"},
      {"p": 1.05439, "k": "tp"}
    ]
  },
  "layer": [
    {
      "data": {"values": [{"t": "2022-11-30T00:00Z"}, {"t": "2022-12-01T00:00Z"}, {"t": "2022-12-02T00:00Z"}, {"t": "2022-12-03T00:00Z"}]},
      "mark": {"type": "rule", "stroke": "#ffffff", "strokeWidth": 1, "strokeDash": [3, 2]},
      "encoding": {"x": {"field": "t", "type": "temporal", "title": null}}
    },
    {
      "data": {"name": "levels"},
      "mark": {"type": "rule", "strokeWidth": 1},
      "encoding": {
        "y": {"field": "p", "type": "quantitative", "title": null,
          "axis": {"title": null, "orient": "right", "values": [1.05515, 1.0535, 1.0518, 1.05015, 1.0468, 1.04515, 1.0418, 1.04015, 1.03845, 1.0368, 1.0351, 1.03345, 1.03175, 1.0301, 1.02845], "format": ".5f", "tickSize": 3, "labelPadding": 1, "labelOverlap": false, "labelFontSize": 9.5, "labelColor": "#ffffff", "tickColor": "#ffffff", "domain": false, "grid": false}},
        "stroke": {"field": "k", "type": "nominal", "legend": null, "scale": {"domain": ["level", "order", "bid", "tp"], "range": ["#fa8072", "#ffff00", "#778899", "#20c020"]}},
        "strokeDash": {"field": "k", "type": "nominal", "legend": null, "scale": {"domain": ["level", "order", "bid", "tp"], "range": [[3, 2], [1, 0], [1, 0], [7, 4, 3, 4]]}}
      }
    },
    {
      "data": {"values": [{"t": "2022-12-02T00:00Z", "t2": "2022-12-02T23:45Z", "p": 1.04927}]},
      "mark": {"type": "rule", "stroke": "#0000ff", "strokeWidth": 1},
      "encoding": {
        "x": {"field": "t", "type": "temporal", "title": null},
        "x2": {"field": "t2"},
        "y": {"field": "p", "type": "quantitative", "title": null,
          "axis": {"title": null, "orient": "right", "values": [1.05515, 1.0535, 1.0518, 1.05015, 1.0468, 1.04515, 1.0418, 1.04015, 1.03845, 1.0368, 1.0351, 1.03345, 1.03175, 1.0301, 1.02845], "format": ".5f", "tickSize": 3, "labelPadding": 1, "labelOverlap": false, "labelFontSize": 9.5, "labelColor": "#ffffff", "tickColor": "#ffffff", "domain": false, "grid": false}}
      }
    },
    {
      "data": {"name": "candles"},
      "mark": {"type": "rule", "stroke": "#00ff00", "strokeWidth": 1},
      "encoding": {
        "x": {
          "field": "t", "type": "temporal", "title": null,
          "scale": {"type": "utc", "padding": 0, "domain": [
            {"year": 2022, "month": 11, "date": 29, "hours": 4, "minutes": 50, "seconds": 37, "milliseconds": 500, "utc": true},
            {"year": 2022, "month": 12, "date": 3, "hours": 0, "minutes": 16, "seconds": 52, "milliseconds": 500, "utc": true}
          ]},
          "axis": {
            "title": null,
            "values": [
              {"year": 2022, "month": 11, "date": 29, "hours": 5, "utc": true},
              {"year": 2022, "month": 11, "date": 29, "hours": 9, "utc": true},
              {"year": 2022, "month": 11, "date": 29, "hours": 13, "utc": true},
              {"year": 2022, "month": 11, "date": 29, "hours": 17, "utc": true},
              {"year": 2022, "month": 11, "date": 29, "hours": 21, "utc": true},
              {"year": 2022, "month": 11, "date": 30, "hours": 1, "utc": true},
              {"year": 2022, "month": 11, "date": 30, "hours": 5, "utc": true},
              {"year": 2022, "month": 11, "date": 30, "hours": 9, "utc": true},
              {"year": 2022, "month": 11, "date": 30, "hours": 13, "utc": true},
              {"year": 2022, "month": 11, "date": 30, "hours": 17, "utc": true},
              {"year": 2022, "month": 11, "date": 30, "hours": 21, "utc": true},
              {"year": 2022, "month": 12, "date": 1, "hours": 1, "utc": true},
              {"year": 2022, "month": 12, "date": 1, "hours": 5, "utc": true},
              {"year": 2022, "month": 12, "date": 1, "hours": 9, "utc": true},
              {"year": 2022, "month": 12, "date": 1, "hours": 13, "utc": true},
              {"year": 2022, "month": 12, "date": 1, "hours": 17, "utc": true},
              {"year": 2022, "month": 12, "date": 1, "hours": 21, "utc": true},
              {"year": 2022, "month": 12, "date": 2, "hours": 1, "utc": true},
              {"year": 2022, "month": 12, "date": 2, "hours": 5, "utc": true},
              {"year": 2022, "month": 12, "date": 2, "hours": 9, "utc": true},
              {"year": 2022, "month": 12, "date": 2, "hours": 13, "utc": true},
              {"year": 2022, "month": 12, "date": 2, "hours": 17, "utc": true},
              {"year": 2022, "month": 12, "date": 2, "hours": 21, "utc": true}
            ],
            "labelExpr": "datum.index == 0 ? '29 Nov 2022' : utcFormat(datum.value, '%-d %b %H:%M')",
            "labelAlign": "left",
            "labelOffset": -1,
            "labelPadding": 1,
            "labelFlush": false,
            "labelOverlap": false,
            "tickSize": 3,
            "labelFontSize": 9.5,
            "labelColor": "#ffffff",
            "tickColor": "#ffffff",
            "domain": false,
            "grid": false
          }
        },
        "y": {
          "field": "l", "type": "quantitative", "title": null,
          "scale": {"domain": [1.028269, 1.055911], "nice": false, "zero": false, "padding": 0},
          "axis": {"title": null, "orient": "right", "values": [1.05515, 1.0535, 1.0518, 1.05015, 1.0468, 1.04515, 1.0418, 1.04015, 1.03845, 1.0368, 1.0351, 1.03345, 1.03175, 1.0301, 1.02845], "format": ".5f", "tickSize": 3, "labelPadding": 1, "labelOverlap": false, "labelFontSize": 9.5, "labelColor": "#ffffff", "tickColor": "#ffffff", "domain": false, "grid": false}
        },
        "y2": {"field": "h"}
      }
    },
    {
      "data": {"name": "candles"},
      "mark": {"type": "bar", "orient": "vertical", "size": 2, "stroke": "#00ff00", "strokeWidth": 1},
      "encoding": {
        "x": {"field": "t", "type": "temporal", "title": null},
        "y": {"field": "o", "type": "quantitative", "title": null,
          "axis": {"title": null, "orient": "right", "values": [1.05515, 1.0535, 1.0518, 1.05015, 1.0468, 1.04515, 1.0418, 1.04015, 1.03845, 1.0368, 1.0351, 1.03345, 1.03175, 1.0301, 1.02845], "format": ".5f", "tickSize": 3, "labelPadding": 1, "labelOverlap": false, "labelFontSize": 9.5, "labelColor": "#ffffff", "tickColor": "#ffffff", "domain": false, "grid": false}},
        "y2": {"field": "c"},
        "fill": {"condition": {"test": "datum.c < datum.o", "value": "#ffffff"}, "value": "#000000"}
      }
    },
    {
      "data": {"name": "tags"},
      "mark": {"type": "rect", "yOffset": -5, "y2Offset": 6},
      "encoding": {
        "x": {"datum": {"year": 2022, "month": 12, "date": 3, "hours": 0, "minutes": 23, "utc": true}, "type": "temporal"},
        "x2": {"datum": {"year": 2022, "month": 12, "date": 3, "hours": 3, "minutes": 0, "utc": true}},
        "y": {"field": "p", "type": "quantitative", "title": null,
          "axis": {"title": null, "orient": "right", "values": [1.05515, 1.0535, 1.0518, 1.05015, 1.0468, 1.04515, 1.0418, 1.04015, 1.03845, 1.0368, 1.0351, 1.03345, 1.03175, 1.0301, 1.02845], "format": ".5f", "tickSize": 3, "labelPadding": 1, "labelOverlap": false, "labelFontSize": 9.5, "labelColor": "#ffffff", "tickColor": "#ffffff", "domain": false, "grid": false}},
        "y2": {"field": "p"},
        "fill": {"field": "k", "type": "nominal", "legend": null, "scale": {"domain": ["bid", "order", "level"], "range": ["#ffffff", "#ffff00", "#fa8072"]}}
      }
    },
    {
      "data": {"name": "tags"},
      "mark": {"type": "text", "align": "left", "baseline": "middle", "dx": 4, "dy": 0.5, "fontSize": 9.5, "font": "Liberation Sans", "fill": "#000000"},
      "encoding": {
        "x": {"datum": {"year": 2022, "month": 12, "date": 3, "hours": 0, "minutes": 23, "utc": true}, "type": "temporal"},
        "y": {"field": "p", "type": "quantitative", "title": null,
          "axis": {"title": null, "orient": "right", "values": [1.05515, 1.0535, 1.0518, 1.05015, 1.0468, 1.04515, 1.0418, 1.04015, 1.03845, 1.0368, 1.0351, 1.03345, 1.03175, 1.0301, 1.02845], "format": ".5f", "tickSize": 3, "labelPadding": 1, "labelOverlap": false, "labelFontSize": 9.5, "labelColor": "#ffffff", "tickColor": "#ffffff", "domain": false, "grid": false}},
        "text": {"field": "p", "type": "quantitative", "format": ".5f"}
      }
    }
  ]
}
